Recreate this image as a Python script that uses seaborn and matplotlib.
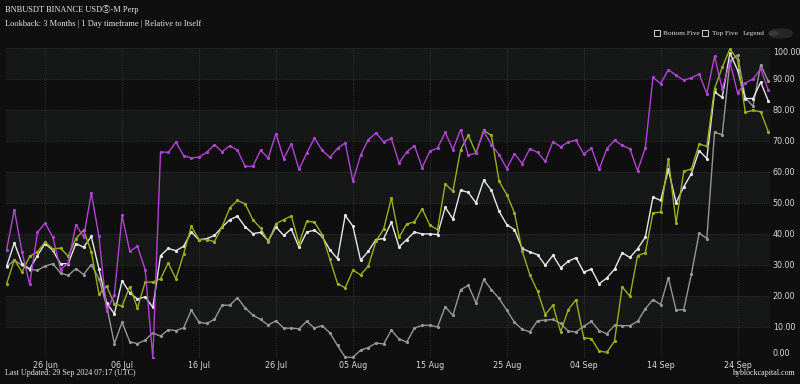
import matplotlib
matplotlib.use("Agg")
import matplotlib.pyplot as plt
import matplotlib.dates as mdates
from matplotlib.patches import FancyBboxPatch, Rectangle, Circle
import pandas as pd
import seaborn as sns

# daily values, 21 Jun -> 28 Sep 2024
dates = pd.date_range("2024-06-21", periods=100, freq="D")

bnb = [34.9, 47.8, 34.2, 23.7, 40.5, 43.5, 39.0, 28.5, 30.6, 43.0, 39.0, 53.2, 39.2, 15.1, 20.4, 46.0, 34.4,
       36.0, 28.5, 0.0, 66.5, 66.3, 69.6, 65.3, 64.5, 64.8, 66.3, 68.8, 66.5, 68.5, 67.0, 61.8, 61.8, 67.0, 64.5,
       72.4, 64.3, 69.1, 60.8, 66.1, 70.9, 67.0, 64.7, 67.6, 69.4, 57.0, 65.4, 70.4, 72.6, 69.7, 70.8, 62.9, 66.5,
       68.5, 61.4, 66.7, 67.7, 72.8, 67.2, 73.7, 65.4, 66.1, 73.1, 68.8, 65.6, 61.1, 65.9, 62.7,
       67.5, 66.3, 63.4, 69.8, 68.1, 69.7, 70.2, 65.8, 67.7, 60.8, 67.5, 70.2, 68.6, 67.5, 60.4, 67.7, 90.5, 88.5,
       93.0, 91.2, 89.6, 90.4, 91.6, 85.3, 97.3, 86.8, 95.4, 85.5, 88.7, 90.0, 93.3, 86.3]

top_five = [23.9, 31.7, 27.7, 32.8, 34.2, 37.4, 35.2, 35.4, 32.8, 38.5, 41.2, 34.3, 20.6, 23.1, 17.5, 16.7, 23.0,
            16.1, 24.4, 24.5, 25.5, 30.6, 25.5, 33.5, 42.5, 38.2, 38.2, 37.5, 42.3, 48.4, 50.8, 49.7, 44.6, 41.9, 37.5,
            43.3, 44.6, 45.8, 36.9, 44.1, 43.8, 39.8, 31.9, 24.0, 22.6, 28.3, 26.8, 29.6, 37.6, 41.6, 51.6, 38.9, 43.2,
            43.9, 48.1, 42.8, 41.4, 56.1, 53.8, 67.2, 71.8, 66.1, 73.4, 71.8, 57.0, 52.7, 46.8, 34.5,
            26.8, 21.5, 14.0, 17.0, 8.4, 15.6, 18.8, 6.5, 6.2, 2.2, 1.8, 5.4, 22.9, 19.9, 33.0, 33.9, 46.8, 47.0,
            64.3, 43.5, 60.2, 61.0, 69.0, 68.3, 86.9, 93.8, 99.7, 96.2, 79.2, 79.9, 79.4, 72.9]

bottom_five = [29.6, 37.1, 30.4, 28.7, 33.0, 36.9, 34.7, 30.4, 30.4, 36.9, 35.7, 39.2, 28.7, 17.7, 14.2, 24.9, 21.0,
               19.0, 19.7, 16.3, 33.0, 35.3, 34.6, 36.0, 40.6, 38.1, 38.5, 39.5, 42.2, 44.6, 45.7, 42.3, 40.1, 40.5,
               37.8, 42.3, 39.5, 41.6, 35.7, 40.6, 41.2, 39.2, 34.9, 32.0, 46.0, 42.5, 31.5, 34.4, 38.2, 38.5, 43.8,
               35.8, 38.2, 40.6, 40.0, 40.0, 39.8, 48.6, 44.8, 54.1, 53.4, 50.0, 57.3, 54.1, 47.3, 43.0, 41.4, 35.3,
               34.2, 33.3, 29.9, 33.1, 29.1, 31.2, 32.3, 27.7, 28.6, 23.9, 25.8, 28.6, 33.9, 32.4, 35.2, 38.9, 51.9,
               50.8, 60.8, 50.1, 55.2, 59.5, 66.9, 64.3, 85.8, 84.1, 98.4, 92.8, 83.7, 83.7, 89.0, 82.8]

market = [29.4, 31.5, 29.9, 28.5, 28.3, 29.6, 30.4, 27.4, 26.6, 28.8, 26.9, 30.1, 25.5, 16.7, 4.6, 11.5, 5.2, 4.6,
          5.7, 8.1, 7.0, 9.1, 8.8, 9.7, 15.4, 11.5, 11.1, 12.4, 17.0, 17.0, 19.4, 16.1, 13.8, 12.4, 10.6,
          12.0, 9.6, 9.6, 9.4, 11.8, 9.6, 10.4, 8.1, 4.0, 0.2, 0.2, 2.5, 3.3, 4.8, 4.5, 8.9, 6.1, 5.1, 9.6, 10.5,
          10.5, 10.0, 16.5, 13.7, 22.0, 23.4, 17.7, 25.3, 22.0, 19.2, 15.4, 11.5, 9.2,
          8.4, 12.0, 12.2, 12.4, 11.1, 8.6, 8.4, 10.2, 11.8, 8.8, 7.8, 10.5, 10.4, 10.4, 11.8, 15.8, 18.8, 17.2,
          25.9, 15.4, 15.6, 27.2, 40.3, 38.5, 72.8, 72.0, 95.7, 97.8, 83.9, 81.2, 94.6, 89.2]

series_names = ["Market", "Bottom Five", "Top Five", "BNBUSDT"]
colors = ["#969696", "#e6e6e6", "#9aae1e", "#b044d2"]
y_ticks = [0, 10, 20, 30, 40, 50, 60, 70, 80, 90, 100]

df = pd.DataFrame({"date": dates, "Market": market, "Bottom Five": bottom_five,
                   "Top Five": top_five, "BNBUSDT": bnb})
long = df.melt(id_vars="date", var_name="series", value_name="value")

sns.set_theme(style="dark")
bg = "#0f0f0f"
fig = plt.figure(figsize=(8, 3.84), dpi=100, facecolor=bg)
ax = fig.add_axes([0.0075, 0.068, 0.955, 0.807])
ax.set_facecolor("#111212")

# striped plot background
for k in range(0, 100, 10):
    ax.axhspan(k, k + 10, color="#161717" if (k // 10) % 2 == 1 else "#0f0f0f", zorder=0, lw=0)

sns.lineplot(data=long, x="date", y="value", hue="series", hue_order=series_names,
             palette=colors, marker="o", markersize=2.3, markeredgewidth=0,
             linewidth=1.0, legend=False, ax=ax, zorder=3)

ax.set_ylim(0, 100)
ax.set_xlim(dates[0] - pd.Timedelta(hours=2), dates[-1] + pd.Timedelta(hours=5))
ax.set_xlabel("")
ax.set_ylabel("")

ax.yaxis.tick_right()
ax.set_yticks(y_ticks)
ax.set_yticklabels([f"{v:.2f}" for v in y_ticks])
labels = ax.get_yticklabels()
labels[0].set_va("bottom")
labels[-1].set_va("top")

tick_days = pd.date_range("2024-06-26", "2024-09-24", freq="10D")
ax.set_xticks(tick_days)
ax.xaxis.set_major_formatter(mdates.DateFormatter("%d %b"))

ax.tick_params(axis="both", colors="#d8d8d8", labelsize=5.8, length=0, pad=2)
ax.tick_params(axis="y", pad=2)
ax.grid(True, color="#363636", linestyle=(0, (1.5, 1.5)), linewidth=0.6, zorder=1)
for s in ax.spines.values():
    s.set_visible(False)

serif = ["Liberation Serif", "Noto Sans CJK JP", "DejaVu Sans"]
fig.text(0.006, 0.986, "BNBUSDT BINANCE USDⓈ-M Perp", color="#e8e8e8", fontsize=6.0,
         family=serif, va="top", ha="left")
fig.text(0.006, 0.948, "Lookback: 3 Months | 1 Day timeframe | Relative to Itself", color="#e8e8e8",
         fontsize=6.0, family=serif, va="top", ha="left")
fig.text(0.006, 0.018, "Last Updated: 29 Sep 2024 07:17 (UTC)", color="#e8e8e8", fontsize=5.8,
         family=serif, va="bottom", ha="left")
fig.text(0.994, 0.018, "hyblockcapital.com", color="#e8e8e8", fontsize=5.8,
         family=serif, va="bottom", ha="right")

# legend strip top right
for xs, txt in [(0.817, "Bottom Five"), (0.878, "Top Five")]:
    fig.patches.append(Rectangle((xs, 0.906), 0.0075, 0.0156, transform=fig.transFigure,
                                 facecolor="none", edgecolor="#d0d0d0", lw=0.7))
    fig.text(xs + 0.012, 0.913, txt, color="#e0e0e0", fontsize=5.2, family=serif, va="center")
fig.text(0.928, 0.913, "Legend", color="#e0e0e0", fontsize=5.2, family=serif, va="center")
fig.patches.append(FancyBboxPatch((0.961, 0.9), 0.03, 0.026, boxstyle="round,pad=0,rounding_size=0.012",
                                  transform=fig.transFigure, facecolor="#262626", edgecolor="none"))
fig.patches.append(Circle((0.967, 0.913), 0.0065, transform=fig.transFigure,
                          facecolor="#3a3a3a", edgecolor="none"))

fig.savefig("out.png", dpi=100, facecolor=bg)
